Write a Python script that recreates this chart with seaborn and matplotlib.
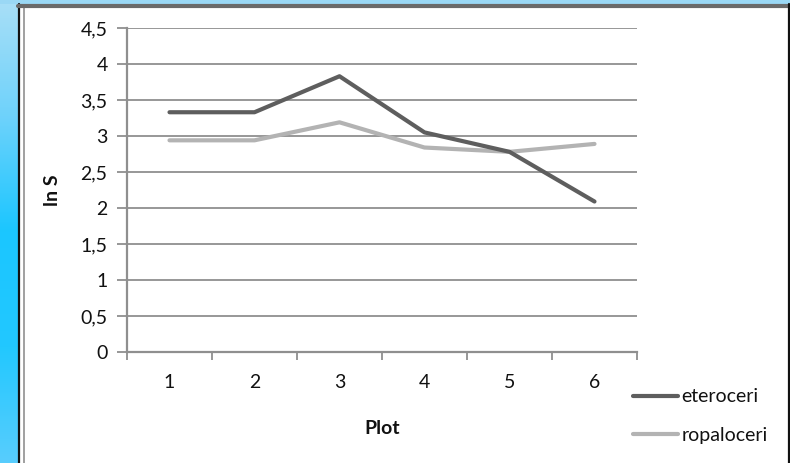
import numpy as np
import pandas as pd
import matplotlib
matplotlib.use("Agg")
import matplotlib.pyplot as plt
from matplotlib.lines import Line2D
from matplotlib.colors import LinearSegmentedColormap
import seaborn as sns

# Data: ln of species richness per plot
plots = [1, 2, 3, 4, 5, 6]
eteroceri = [3.33, 3.33, 3.83, 3.05, 2.78, 2.09]
ropaloceri = [2.94, 2.94, 3.19, 2.84, 2.78, 2.89]
series_names = ["eteroceri", "ropaloceri"]
y_ticks = [0, 0.5, 1, 1.5, 2, 2.5, 3, 3.5, 4, 4.5]

df = pd.DataFrame({
    "Plot": plots * 2,
    "ln S": eteroceri + ropaloceri,
    "gruppo": [series_names[0]] * len(plots) + [series_names[1]] * len(plots),
})

sns.set_theme(style="white")
plt.rcParams["font.family"] = ["Lato", "DejaVu Sans"]

FS = 14
W, H = 790, 463
fig = plt.figure(figsize=(W / 100, H / 100), dpi=100)
fig.patch.set_facecolor("white")

# Blue gradient strip on the left edge and along the top
cmap = LinearSegmentedColormap.from_list(
    "edge", ["#a9dff7", "#6ed2fb", "#1bc6ff", "#22c8ff", "#58cdfd"])
grad = np.linspace(0, 1, 256).reshape(-1, 1)
strip = fig.add_axes([0, 0, 18 / W, 1])
strip.imshow(grad, aspect="auto", cmap=cmap, extent=[0, 1, 1, 0])
strip.set_axis_off()
top = fig.add_axes([0, 1 - 3.5 / H, 1, 3.5 / H])
top.set_facecolor("#9ad8f5")
top.set_xticks([]); top.set_yticks([])
for s in top.spines.values():
    s.set_visible(False)

# Double frame around the chart
fig.add_artist(Line2D([18.5 / W, 18.5 / W], [0, 1 - 3.5 / H], color="#111111", lw=1.6, transform=fig.transFigure))
fig.add_artist(Line2D([23.5 / W, 23.5 / W], [0, 1 - 7 / H], color="#a0a0a0", lw=1.4, transform=fig.transFigure))
fig.add_artist(Line2D([18 / W, 789 / W], [1 - 5.5 / H, 1 - 5.5 / H], color="#6a6a6a", lw=3.0, transform=fig.transFigure))
fig.add_artist(Line2D([788.5 / W, 788.5 / W], [0, 1 - 4 / H], color="#111111", lw=1.6, transform=fig.transFigure))

ax = fig.add_axes([127 / W, 1 - 352 / H, 510 / W, 324 / H])
ax.set_facecolor("white")

palette = {"eteroceri": "#5e5e5e", "ropaloceri": "#b3b3b3"}
sns.lineplot(data=df, x="Plot", y="ln S", hue="gruppo", hue_order=series_names,
             palette=palette, linewidth=3.0, ax=ax, legend=False)
for ln, z in zip(ax.get_lines(), [4, 3]):
    ln.set_solid_capstyle("round")
    ln.set_solid_joinstyle("round")
    ln.set_zorder(z)

grid_c = "#8f8f8f"
ax.set_xlim(0.5, 6.5)
ax.set_ylim(0, 4.5)
ax.set_yticks(y_ticks)
ax.set_yticklabels([f"{v:g}".replace(".", ",") for v in y_ticks])
ax.set_xticks(plots)
ax.set_xticklabels([str(p) for p in plots])
ax.set_xticks(np.arange(0.5, 7, 1), minor=True)
ax.yaxis.grid(True, color=grid_c, lw=1.3)
ax.set_axisbelow(True)
for side in ["top", "right"]:
    ax.spines[side].set_visible(False)
for side in ["left", "bottom"]:
    ax.spines[side].set_color(grid_c)
    ax.spines[side].set_linewidth(1.6)
ax.tick_params(axis="y", which="major", left=True, length=7, width=1.3, color=grid_c,
               pad=7, labelsize=FS, labelcolor="#111111")
ax.tick_params(axis="x", which="major", bottom=False, length=0, pad=16,
               labelsize=FS, labelcolor="#111111")
ax.tick_params(axis="x", which="minor", bottom=True, length=6, width=1.3, color=grid_c)

ax.set_xlabel("Plot", fontsize=FS, fontweight="bold", color="#111111")
ax.xaxis.set_label_coords(0.5, (352 - 420) / 324)
ax.set_ylabel("ln S", fontsize=FS, fontweight="bold", color="#111111")
ax.yaxis.set_label_coords((61 - 127) / 510, 0.5)

handles = [Line2D([0], [0], color=palette[n], lw=3.0, solid_capstyle="round") for n in series_names]
fig.legend(handles, series_names, loc="center left",
           bbox_to_anchor=(633 / W, 1 - 416 / H), frameon=False, fontsize=FS,
           handlelength=2.3, handletextpad=0.2, labelspacing=1.1,
           borderpad=0, borderaxespad=0, labelcolor="#111111")

fig.savefig("out.png", dpi=100)
